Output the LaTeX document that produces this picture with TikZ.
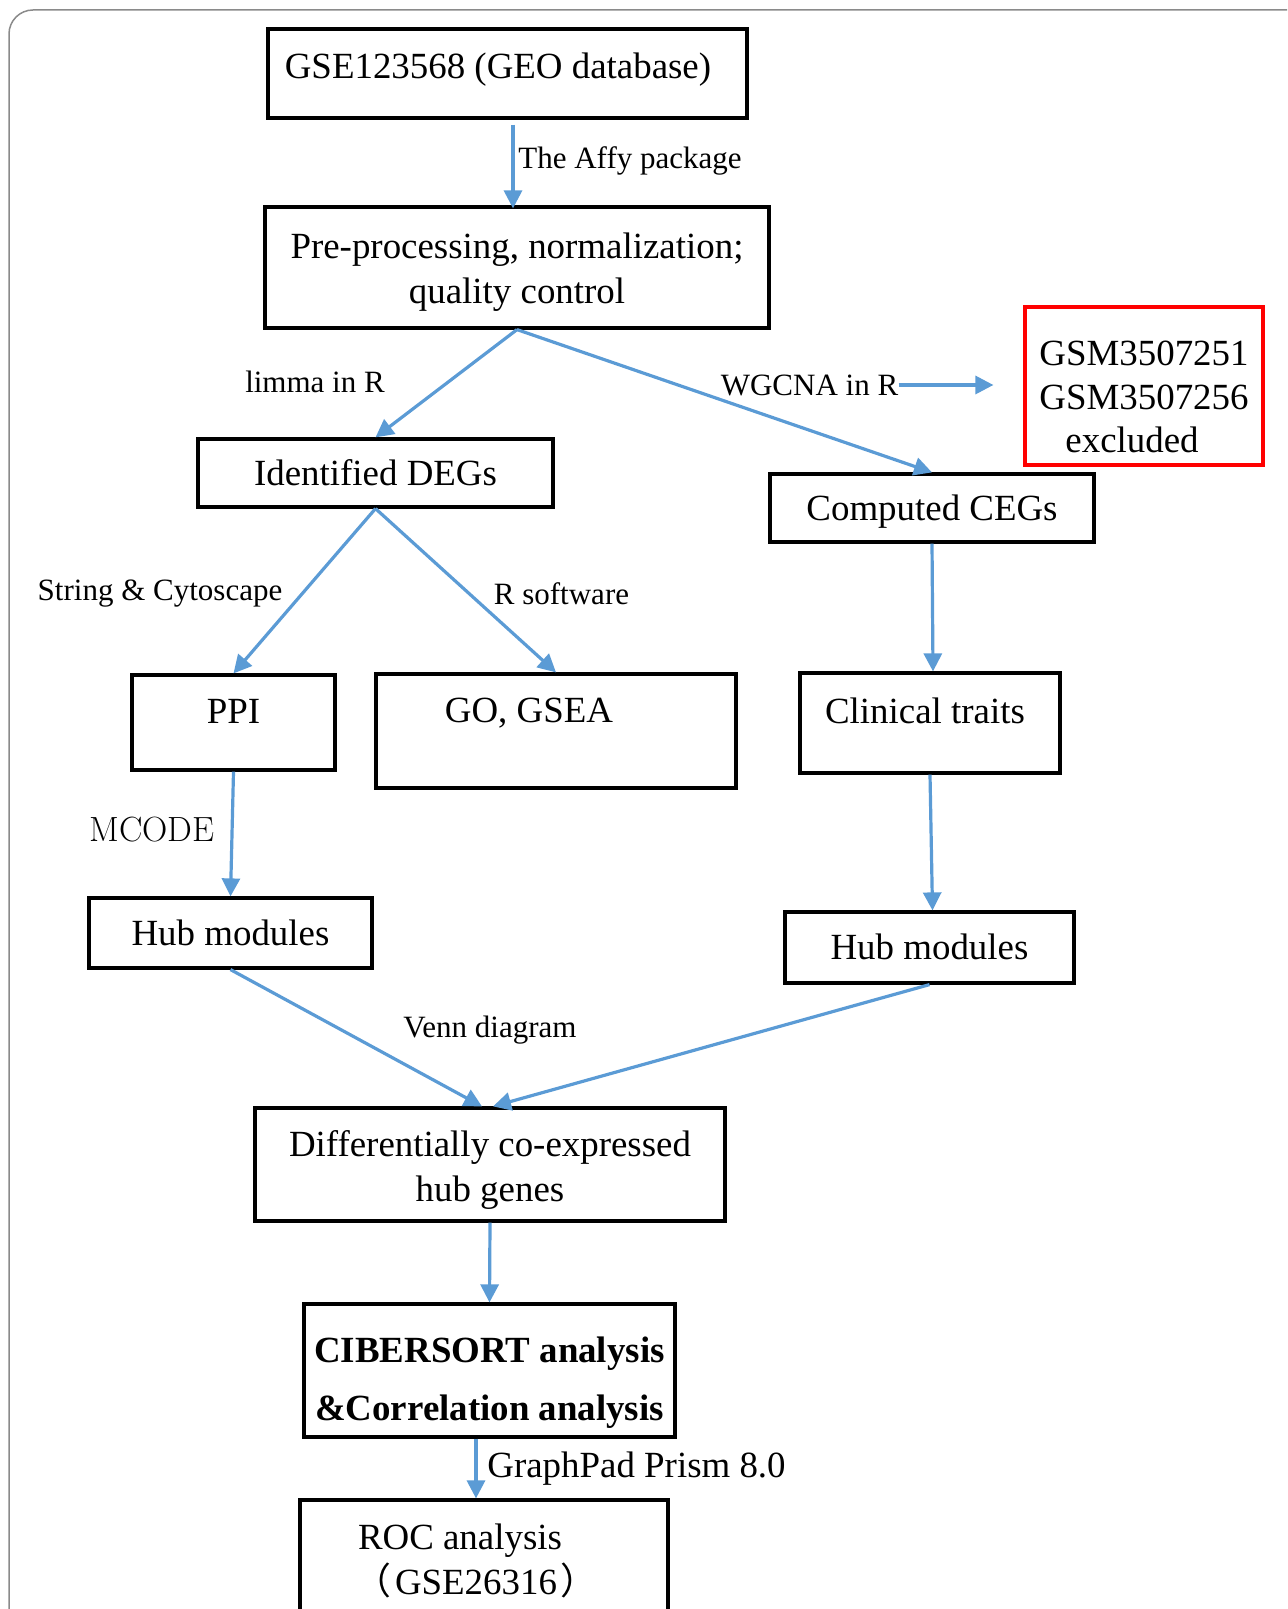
\documentclass[tikz,border=0pt]{standalone}
\usepackage{fontspec}
\setmainfont{Liberation Serif}
\newfontfamily\cjk{Noto Sans CJK SC}
\usetikzlibrary{arrows.meta,positioning,calc}
\definecolor{flowblue}{HTML}{5B9BD5}
\definecolor{framegray}{HTML}{8A8A8A}
\newcommand{\bigsz}{\fontsize{18.45}{22.5}\selectfont}
\newcommand{\labsz}{\fontsize{15.5}{18.6}\selectfont}

\begin{document}
\begin{tikzpicture}[x=0.5pt, y=-0.5pt, >={Triangle[length=9pt,width=9pt]},
  box/.style={draw, line width=1.6pt, inner sep=0pt, align=center, font=\bigsz},
  oneline/.style={text height=12.9pt, text depth=#1},
  oneline/.default=0.7pt,
  excl/.style={box, draw=red},
  tag/.style={inner sep=0pt, font=\labsz, text height=10.3pt, text depth=0pt},
  arr/.style={->, color=flowblue, line width=1.6pt}]
\useasboundingbox (0,0) rectangle (1287,1609);
\clip (0,0) rectangle (1287,1609);
\draw[framegray, line width=0.75pt, rounded corners=12pt] (9,10) rectangle (1320,1650);

% boxes
\node[box, oneline=8.2pt, minimum width=239.5pt, minimum height=44.5pt] (gse) at (507.5,73.5)
  {GSE123568 (GEO database)\hspace*{9.5pt}};
\node[box, minimum width=252pt, minimum height=60.5pt] (pre) at (517,267.5)
  {\rule{0pt}{17pt}Pre-processing, normalization;\\quality control};
\node[box, oneline, minimum width=177.5pt, minimum height=34pt] (degs) at (375.5,473) {Identified DEGs};
\node[box, oneline=0pt, minimum width=162pt, minimum height=34pt] (cegs) at (932,508) {Computed CEGs};
\node[excl, minimum width=119pt, minimum height=79pt] (gsm) at (1144,386)
  {\rule{0pt}{23.5pt}GSM3507251\\[-0.8pt]GSM3507256\\[-0.8pt]excluded\hspace*{12pt}};
\node[box, oneline=12.2pt, minimum width=101.5pt, minimum height=47.5pt] (ppi) at (233.5,722.5) {PPI};
\node[box, oneline=21.7pt, minimum width=180pt, minimum height=57pt] (go) at (556,731) {GO, GSEA\hspace*{27pt}};
\node[box, oneline=12.7pt, minimum width=130pt, minimum height=50pt] (clin) at (930,723) {Clinical traits\hspace*{5pt}};
\node[box, oneline, minimum width=141.5pt, minimum height=35pt] (hubl) at (230.5,933) {Hub modules};
\node[box, oneline, minimum width=144.5pt, minimum height=35.5pt] (hubr) at (929.5,947.5) {Hub modules};
\node[box, minimum width=235pt, minimum height=56.5pt] (diff) at (490,1164.5)
  {\rule{0pt}{18.6pt}Differentially co-expressed\\hub genes};
\node[box, font=\bigsz\bfseries, minimum width=185.5pt, minimum height=66.5pt] (cib) at (489.5,1370.5)
  {\rule{0pt}{25pt}CIBERSORT analysis\\[6.5pt]\&Correlation analysis};
\node[box, minimum width=184pt, minimum height=58pt] (roc) at (484,1558)
  {\rule{0pt}{15.6pt}ROC analysis\hspace*{24pt}\\{\cjk （}\kern2pt GSE26316\kern2pt{\cjk ）}\hspace*{8pt}};

% labels
\node[tag, anchor=west] (affy) at (518,158) {The Affy package};
\node[tag] (limma) at (315,382) {limma in R};
\node[tag] (wgcna) at (809.5,385) {WGCNA in R};
\node[tag] (string) at (160,590) {String \& Cytoscape};
\node[tag] (rsoft) at (561.5,594) {R software};
\node[tag, font=\fontfamily{lmr}\fontsize{17.5}{21}\selectfont, text height=12pt] (mcode) at (152,829) {MCODE};
\node[tag] (venn) at (490,1027) {Venn diagram};
\node[tag, font=\bigsz, text height=12.2pt, anchor=west] (prism) at (487,1465) {GraphPad Prism 8.0};

% connectors
\draw[arr] ([xshift=2.75pt,yshift=-2.5pt]gse.south) -- ([xshift=-2pt,yshift=-1.5pt]pre.north);
\draw[arr] (pre.south) -- (degs.north);
\draw[arr] (pre.south) -- (cegs.north);
\draw[arr, shorten >=15pt] (wgcna.east) -- (wgcna.east -| gsm.west);
\draw[arr] (degs.south) -- (ppi.north);
\draw[arr] (degs.south) -- (go.north);
\draw[arr] (cegs.south) -- ([xshift=1.5pt]clin.north);
\draw[arr] (ppi.south) -- (hubl.north);
\draw[arr] (clin.south) -- ([xshift=1.5pt]hubr.north);
\draw[arr] (hubl.south) -- ([xshift=-4pt]diff.north);
\draw[arr] (hubr.south) -- ([xshift=1.5pt]diff.north);
\draw[arr] (diff.south) -- (cib.north);
\draw[arr] ([xshift=-6.75pt]cib.south) -- ([xshift=-4pt]roc.north);
\end{tikzpicture}
\end{document}
